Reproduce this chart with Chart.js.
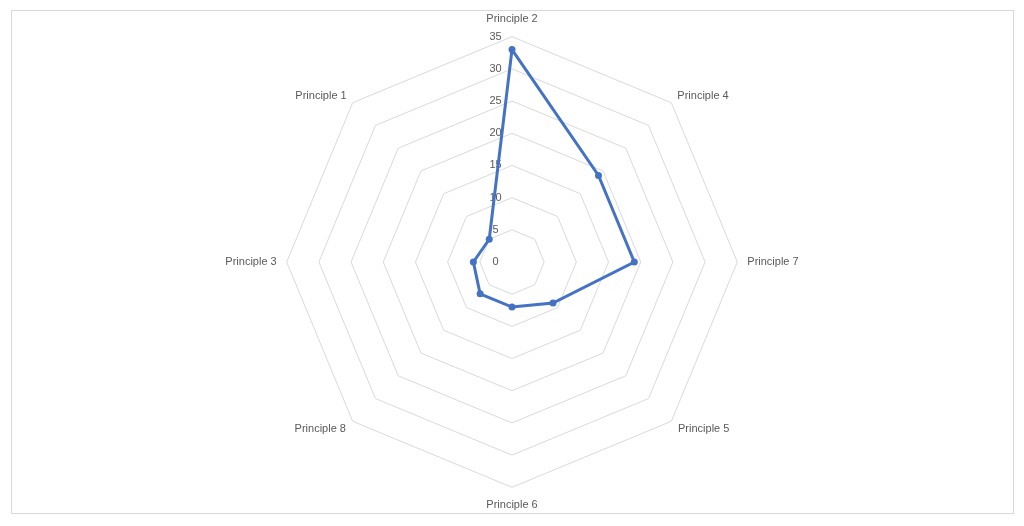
<!DOCTYPE html>
<html>
<head>
<meta charset="utf-8">
<script src="https://cdn.jsdelivr.net/npm/chart.js@4/dist/chart.umd.min.js"></script>
<style>
  html, body { margin: 0; padding: 0; background: #fff; }
  #box {
    position: absolute; left: 11px; top: 10px;
    width: 1001px; height: 502px;
    border: 1px solid #d9d9d9;
  }
</style>
</head>
<body>
<div id="box"><canvas id="radar"></canvas></div>
<script>
// order goes clockwise from the top
const principios = ["Principle 2", "Principle 4", "Principle 7", "Principle 5",
                    "Principle 6", "Principle 8", "Principle 3", "Principle 1"];
const valores = [33, 19, 19, 9, 7, 7, 6, 5];
const ticksEscala = [0, 5, 10, 15, 20, 25, 30, 35];

const gris = "#595959";
const azul = "#4472c4";

// labels on the diagonals sit closer to the corner, like in Excel
function esDiagonal(i) { return i % 2 === 1; }

function paddingEtiqueta(i) {
  if (i === 1 || i === 7) return 1;   // upper diagonals
  if (esDiagonal(i)) return 2;        // lower diagonals
  if (i === 0 || i === 4) return 3.5;
  return 2.5;
}

new Chart(document.getElementById("radar"), {
  type: "radar",
  data: {
    labels: principios,
    datasets: [{
      data: valores,
      borderColor: azul,
      backgroundColor: azul,
      borderWidth: 3,
      fill: false,
      pointRadius: 3.5,
      pointBackgroundColor: azul,
      pointBorderWidth: 0,
      tension: 0
    }]
  },
  options: {
    responsive: true,
    maintainAspectRatio: false,
    animation: false,
    layout: { padding: { top: 1.5, bottom: 1.5 } },
    plugins: { legend: { display: false }, tooltip: { enabled: false } },
    scales: {
      r: {
        // min a hair below 0 so chart.js also prints the "0" tick
        min: -0.001,
        max: ticksEscala[ticksEscala.length - 1],
        afterBuildTicks: (scale) => {
          scale.ticks = ticksEscala.map(v => ({ value: v }));
        },
        angleLines: { display: false },
        grid: {
          color: (ctx) => ctx.index === 0 ? "rgba(0,0,0,0)" : "#d9d9d9",
          lineWidth: 1
        },
        ticks: {
          color: gris,
          showLabelBackdrop: false,
          font: { family: "Liberation Sans", size: 11 },
          callback: (v) => v + "\u2003\u2003\u2003"
        },
        pointLabels: {
          color: gris,
          padding: (ctx) => paddingEtiqueta(ctx.index),
          font: (ctx) => ({
            family: "Liberation Sans",
            size: 11,
            lineHeight: esDiagonal(ctx.index) ? 0.1 : 1.2
          })
        }
      }
    }
  }
});
</script>
</body>
</html>
